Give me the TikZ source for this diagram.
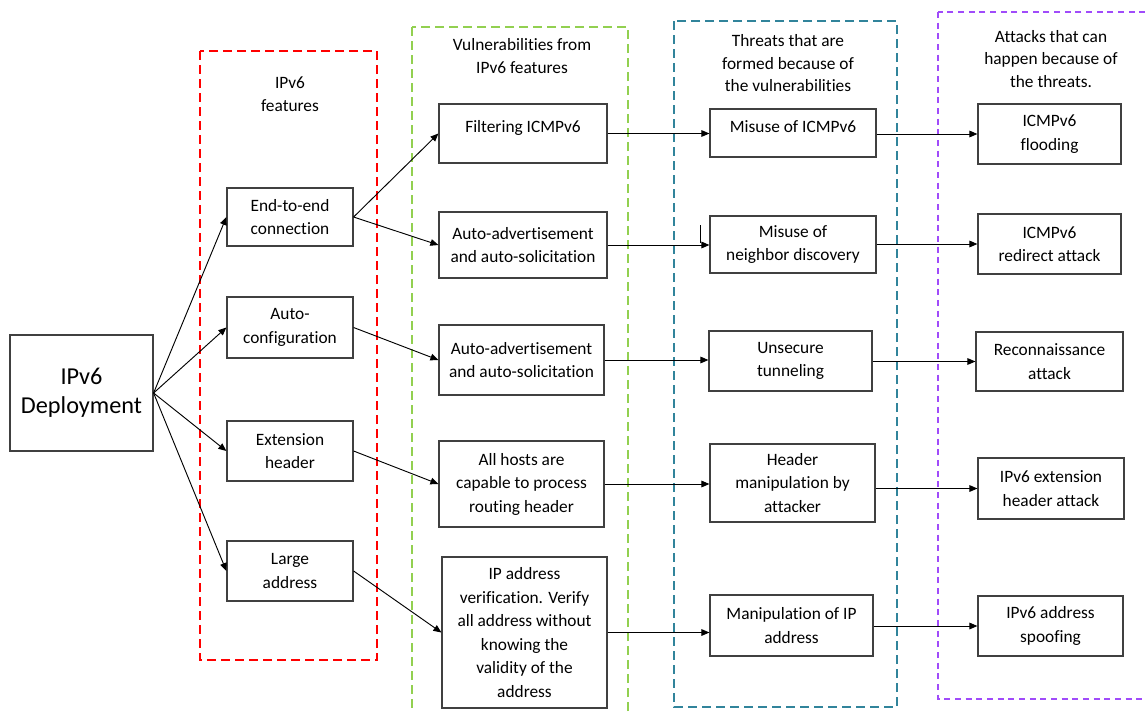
\documentclass[tikz,border=0pt]{standalone}
\usepackage{fontspec}
\setmainfont{Carlito}[Ligatures=NoCommon]
\usetikzlibrary{arrows.meta}

\definecolor{featred}{HTML}{FF0000}
\definecolor{vulngreen}{HTML}{92D050}
\definecolor{threatteal}{HTML}{31849B}
\definecolor{attackviolet}{HTML}{A04BFA}

\begin{document}
\begin{tikzpicture}[x=0.75pt,y=-0.75pt,
    box/.style 2 args={draw=black!75, line width=0.9pt, fill=white, align=center,
      inner sep=0pt, minimum width=#1*0.75pt, minimum height=#2*0.75pt,
      font=\fontsize{13}{17.6}\selectfont},
    title/.style={align=center, font=\fontsize{13}{16.9}\selectfont},
    frame/.style={line width=1.5pt, dash pattern=on 6.5pt off 4pt},
    link/.style={-{Triangle[length=6pt,width=5pt]}, line width=0.7pt}]

  \useasboundingbox (0,0) rectangle (1145,711);

  % The four dashed columns
  \draw[frame, featred] (200,51) rectangle (377,660);
  \draw[frame, vulngreen] (412,27) rectangle (628,730);
  \draw[frame, threatteal] (674,21) rectangle (897,707);
  \draw[frame, attackviolet, line width=1.2pt, dash pattern=on 4.5pt off 3.5pt] (938,12) rectangle (1160,699);

  % Column titles
  \node[title] (ttlfeat) at (290,94) {IPv6\\features};
  \node[title] (ttlvuln) at (522,56) {Vulnerabilities from\\IPv6 features};
  \node[title] (ttlthreat) at (788,63.5) {Threats that are\\formed because of\\the vulnerabilities};
  \node[title] (ttlattack) at (1051,59) {Attacks that can\\happen because of\\the threats.};

  % Root
  \node[box={143}{116}, font=\fontsize{18.2}{22}\selectfont] (dep) at (81.5,393) {IPv6\\Deployment};

  % IPv6 features
  \node[box={126}{58}] (e2e) at (290,217) {End-to-end\\connection};
  \node[box={126}{61}] (autocfg) at (290,327.5) {Auto-\\configuration};
  \node[box={126}{60}] (exthdr) at (290,451) {Extension\\header};
  \node[box={126}{60}] (largeaddr) at (290,571) {Large\\address};

  % Vulnerabilities
  \node[box={168}{59}, text depth=11pt] (filt) at (523,133.5) {Filtering ICMPv6};
  \node[box={168}{66}] (adv1) at (523,245) {Auto-advertisement\\and auto-solicitation};
  \node[box={165}{70}] (adv2) at (521.5,360) {Auto-advertisement\\and auto-solicitation};
  \node[box={165}{86}] (hosts) at (521.5,484) {All hosts are\\capable to process\\routing header};
  \node[box={165}{151}] (ipver) at (524.5,632.5) {IP address\\verification. Verify\\all address without\\knowing the\\validity of the\\address};

  % Threats
  \node[box={166}{48}, text depth=9.5pt] (misicmp) at (793,133) {Misuse of ICMPv6};
  \node[box={166}{57}] (misnd) at (793,244.5) {Misuse of\\neighbor discovery};
  \node[box={163}{60}] (tunnel) at (790.5,361) {Unsecure\\tunneling};
  \node[box={165}{78}] (hdrman) at (792.5,483) {Header\\manipulation by\\attacker};
  \node[box={163}{61}] (ipman) at (791.5,625.5) {Manipulation of IP\\address};

  % Attacks
  \node[box={143}{60}] (flood) at (1049.5,134) {ICMPv6\\flooding};
  \node[box={143}{60}] (redir) at (1049.5,244) {ICMPv6\\redirect attack};
  \node[box={147}{59}] (recon) at (1049.5,361.5) {Reconnaissance\\attack};
  \node[box={146}{61}] (exthdratk) at (1051,488.5) {IPv6 extension\\header attack};
  \node[box={145}{60}] (spoof) at (1050.5,626) {IPv6 address\\spoofing};

  % Connectors
  \foreach \f in {e2e,autocfg,exthdr,largeaddr}
    \draw[link] (dep.east) -- (\f.west);
  \draw[link] (e2e.east) -- (filt.west);
  \draw[link] (e2e.east) -- (adv1.west);
  \draw[link] (autocfg.east) -- (adv2.west);
  \draw[link] (exthdr.east) -- (hosts.west);
  \draw[link] (largeaddr.east) -- (ipver.west);
  \foreach \v/\t in {filt/misicmp,adv1/misnd,adv2/tunnel,hosts/hdrman,ipver/ipman}
    \draw[link] (\v.east) -- (\v.east -| \t.west);
  \foreach \t/\a in {misicmp/flood,misnd/redir,tunnel/recon,hdrman/exthdratk,ipman/spoof}
    \draw[link] (\t.east |- \a.west) -- (\a.west);

  % small stray tick before the neighbor discovery box
  \draw[line width=0.6pt] (700,225) -- (700,243);

\end{tikzpicture}
\end{document}
